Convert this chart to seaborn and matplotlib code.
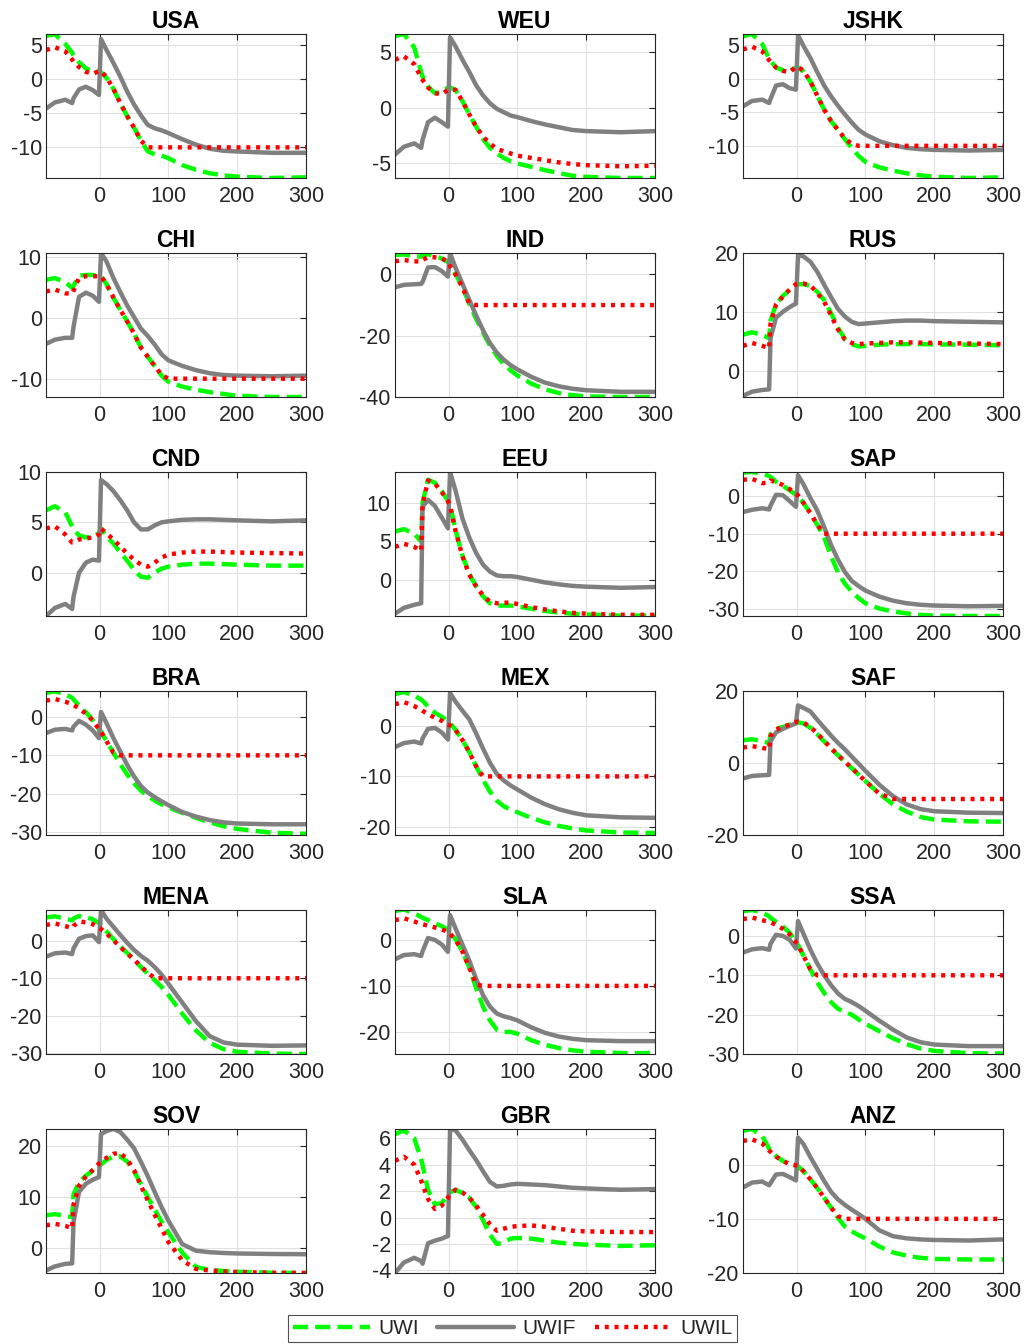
import matplotlib
matplotlib.use("Agg")
import matplotlib.pyplot as plt
import numpy as np
import pandas as pd
import seaborn as sns

# Time axis shared by every region (months relative to the policy date)
X = [-78, -65, -50, -40, -38, -30, -20, -10, -1, 2, 10, 20, 30, 40, 50, 60,
     70, 80, 90, 100, 120, 140, 160, 180, 200, 250, 300]

SCENARIOS = ["UWI", "UWIF", "UWIL"]
REGIONS = ["USA", "WEU", "JSHK", "CHI", "IND", "RUS", "CND", "EEU", "SAP",
           "BRA", "MEX", "SAF", "MENA", "SLA", "SSA", "SOV", "GBR", "ANZ"]

USA_UWI = [6.4, 6.6, 5.2, 3.9, 3.5, 2.5, 1.6, 1.2, 1.1, 1.0, 0.2, -1.4, -3.5, -5.4, -7.1, -9.0,
           -10.6, -11.0, -11.2, -11.6, -12.6, -13.3, -13.8, -14.1, -14.3, -14.5, -14.4]
USA_UWIF = [-4.3, -3.4, -3.0, -3.5, -2.8, -1.5, -1.1, -1.6, -2.3, 5.9, 4.3, 2.4, 0.4, -1.8, -3.7, -5.3,
            -6.7, -7.2, -7.5, -7.9, -8.8, -9.6, -10.2, -10.5, -10.6, -10.8, -10.8]
USA_UWIL = [4.3, 4.7, 4.1, 2.9, 2.6, 1.8, 1.1, 0.8, 1.2, 1.2, 0.3, -1.4, -3.5, -5.4, -7.1, -9.0,
            -10, -10, -10, -10, -10, -10, -10, -10, -10, -10, -10]

WEU_UWI = [6.4, 6.6, 5.4, 3.2, 2.8, 1.9, 1.3, 1.4, 1.8, 1.8, 1.6, 0.6, -0.6, -1.7, -2.8, -3.6,
           -4.1, -4.5, -4.8, -5.0, -5.3, -5.6, -5.85, -6.1, -6.2, -6.3, -6.3]
WEU_UWIF = [-4.2, -3.5, -3.2, -3.6, -2.9, -1.3, -0.9, -1.3, -1.7, 6.3, 5.5, 4.3, 3.2, 2.0, 1.1, 0.4,
            -0.1, -0.4, -0.7, -0.85, -1.2, -1.5, -1.75, -2.0, -2.1, -2.2, -2.1]
WEU_UWIL = [4.3, 4.6, 3.9, 2.7, 2.5, 1.8, 1.3, 1.2, 1.6, 1.6, 1.6, 0.6, -0.6, -1.7, -2.6, -3.2,
            -3.7, -3.9, -4.1, -4.3, -4.5, -4.7, -4.9, -5.05, -5.15, -5.25, -5.2]

JSHK_UWI = [6.35, 6.7, 5.2, 3.0, 2.7, 1.7, 1.3, 1.2, 1.7, 1.7, 1.1, -0.4, -2.5, -4.6, -6.3, -7.6,
            -9.0, -10.3, -11.5, -12.4, -13.2, -13.7, -14.1, -14.4, -14.6, -14.8, -14.7]
JSHK_UWIF = [-4.1, -3.3, -3.1, -3.6, -3.0, -1.0, -0.8, -1.4, -1.6, 6.5, 4.9, 3.1, 1.0, -1.0, -2.6, -4.0,
             -5.3, -6.5, -7.6, -8.3, -9.3, -9.9, -10.3, -10.5, -10.6, -10.7, -10.6]
JSHK_UWIL = [4.4, 4.8, 4.1, 2.8, 2.6, 1.7, 1.2, 1.0, 1.8, 1.8, 1.2, -0.4, -2.5, -4.6, -6.3, -7.6,
             -8.9, -9.7, -10, -10, -10, -10, -10, -10, -10, -10, -10]

CHI_UWI = [6.2, 6.5, 5.8, 4.9, 5.2, 6.9, 7.0, 7.0, 6.8, 6.8, 5.5, 3.3, 1.3, -0.6, -2.6, -4.9,
           -6.4, -7.9, -9.5, -10.5, -11.3, -11.8, -12.2, -12.5, -12.8, -13.0, -13.0]
CHI_UWIF = [-4.3, -3.6, -3.3, -3.3, -1.5, 3.4, 4.1, 3.6, 2.6, 10.6, 9.2, 6.5, 4.2, 2.0, 0.1, -1.8,
            -3.0, -4.4, -6.0, -7.0, -7.9, -8.6, -9.1, -9.4, -9.5, -9.6, -9.5]
CHI_UWIL = [4.3, 4.6, 4.0, 3.9, 4.4, 6.5, 6.8, 6.8, 6.8, 6.8, 5.5, 3.3, 1.3, -0.6, -2.6, -4.9,
            -6.4, -7.9, -9.4, -10, -10, -10, -10, -10, -10, -10, -10]

IND_UWI = [6.4, 6.5, 6.0, 5.8, 6.1, 6.6, 6.0, 5.2, 4.0, 3.0, 0.2, -4.2, -9.5, -14.5, -19.0, -23.2,
           -26.5, -29.3, -31.3, -33.0, -35.6, -37.5, -38.7, -39.4, -39.8, -40.0, -40.0]
IND_UWIF = [-4.2, -3.4, -3.2, -3.1, -2.5, 2.3, 2.4, 1.1, -0.7, 7.0, 2.2, -3.0, -8.3, -13.4, -18.2, -22.4,
            -25.5, -27.8, -29.6, -31.0, -33.4, -35.3, -36.5, -37.3, -37.8, -38.3, -38.3]
IND_UWIL = [4.3, 4.7, 4.3, 4.2, 4.7, 5.7, 5.6, 5.2, 4.2, 2.8, 0.0, -4.2, -9.5, -10, -10, -10,
            -10, -10, -10, -10, -10, -10, -10, -10, -10, -10, -10]

RUS_UWI = [6.1, 6.5, 6.1, 5.5, 8.5, 11.3, 12.7, 13.7, 14.6, 14.7, 14.7, 14.4, 13.4, 12.0, 9.8, 7.3,
           5.4, 4.5, 4.1, 4.2, 4.4, 4.5, 4.5, 4.5, 4.45, 4.4, 4.3]
RUS_UWIF = [-4.3, -3.6, -3.3, -3.2, 5.5, 9.0, 10.0, 10.8, 11.4, 19.7, 19.4, 18.5, 16.8, 14.6, 12.5, 10.5,
            9.2, 8.3, 7.9, 8.0, 8.2, 8.4, 8.5, 8.5, 8.4, 8.3, 8.2]
RUS_UWIL = [4.2, 4.7, 4.2, 3.8, 8.0, 11.2, 12.6, 13.8, 14.7, 14.8, 14.8, 14.5, 13.2, 11.7, 9.4, 7.0,
            5.3, 4.7, 4.5, 4.6, 4.7, 4.8, 4.8, 4.75, 4.7, 4.6, 4.5]

CND_UWI = [6.2, 6.6, 6.0, 4.6, 4.3, 3.7, 3.5, 3.6, 3.9, 4.4, 3.6, 2.9, 2.0, 1.2, 0.3, -0.4,
           -0.5, 0.0, 0.4, 0.6, 0.8, 0.9, 0.9, 0.85, 0.8, 0.7, 0.7]
CND_UWIF = [-4.3, -3.5, -3.1, -3.6, -2.4, 0.0, 1.0, 1.3, 1.2, 9.2, 8.8, 8.1, 7.2, 6.2, 5.0, 4.3,
            4.3, 4.7, 5.0, 5.1, 5.25, 5.3, 5.3, 5.25, 5.2, 5.1, 5.2]
CND_UWIL = [4.4, 4.6, 3.8, 3.0, 3.0, 3.3, 3.4, 3.5, 3.8, 4.4, 3.9, 3.3, 2.6, 1.9, 1.3, 0.8,
            0.6, 1.0, 1.5, 1.8, 2.0, 2.1, 2.1, 2.05, 2.0, 1.95, 1.9]

EEU_UWI = [6.3, 6.6, 6.0, 5.0, 10.0, 13.0, 12.6, 11.5, 10.3, 9.8, 6.5, 3.2, 0.8, -0.8, -2.1, -3.0,
           -3.3, -3.3, -3.3, -3.4, -3.7, -4.0, -4.2, -4.35, -4.45, -4.6, -4.6]
EEU_UWIF = [-4.35, -3.6, -3.2, -3.0, 9.5, 10.4, 9.6, 8.1, 6.7, 14.0, 11.6, 8.0, 5.5, 3.5, 2.0, 1.1,
            0.6, 0.5, 0.5, 0.4, 0.05, -0.3, -0.55, -0.75, -0.85, -1.0, -0.9]
EEU_UWIL = [4.3, 4.7, 4.3, 3.8, 9.8, 12.9, 12.5, 11.4, 10.2, 9.7, 6.4, 3.1, 0.7, -0.8, -2.0, -2.8,
            -3.0, -2.95, -2.9, -3.1, -3.5, -3.8, -4.05, -4.25, -4.35, -4.5, -4.5]

SAP_UWI = [6.3, 6.5, 6.1, 5.4, 5.2, 3.9, 2.8, 1.6, 0.4, 0.1, -1.8, -4.5, -7.6, -11.0, -16.0, -20.3,
           -23.3, -25.5, -27.2, -28.6, -30.0, -30.8, -31.3, -31.7, -31.9, -32.0, -32.0]
SAP_UWIF = [-4.2, -3.6, -3.2, -3.5, -2.5, 0.4, 0.3, -1.3, -2.8, 5.6, 3.2, -0.5, -3.8, -8.2, -13.0, -16.9,
            -20.2, -22.6, -24.0, -25.2, -26.8, -27.9, -28.6, -29.0, -29.2, -29.4, -29.3]
SAP_UWIL = [4.4, 4.7, 3.5, 3.7, 4.2, 3.8, 3.0, 1.9, 0.6, 0.3, -1.8, -4.5, -7.6, -10, -10, -10,
            -10, -10, -10, -10, -10, -10, -10, -10, -10, -10, -10]

BRA_UWI = [6.3, 6.7, 6.0, 5.0, 4.6, 3.0, 1.3, -0.8, -3.2, -3.8, -6.3, -9.3, -12.3, -15.0, -17.3, -19.2,
           -20.6, -21.8, -22.8, -23.6, -25.0, -26.3, -27.5, -28.5, -29.2, -30.2, -30.5]
BRA_UWIF = [-4.2, -3.3, -3.1, -3.5, -2.5, -1.0, -2.0, -3.5, -5.5, 1.3, -1.6, -5.5, -9.0, -12.5, -15.5, -18.0,
            -19.7, -20.9, -22.0, -23.0, -24.8, -26.0, -26.9, -27.5, -27.8, -28.0, -28.0]
BRA_UWIL = [4.3, 4.7, 4.0, 3.4, 3.2, 2.2, 0.9, -0.9, -3.2, -3.8, -6.3, -9.3, -10, -10, -10, -10,
            -10, -10, -10, -10, -10, -10, -10, -10, -10, -10, -10]

MEX_UWI = [6.3, 6.7, 6.0, 5.2, 5.0, 3.8, 2.6, 1.8, 0.9, 0.6, -0.8, -2.8, -5.2, -8.0, -10.7, -13.0,
           -14.8, -15.9, -16.6, -17.1, -18.2, -19.1, -19.8, -20.3, -20.7, -21.1, -21.2]
MEX_UWIF = [-4.2, -3.4, -3.1, -3.5, -2.5, -0.6, -0.4, -1.3, -2.7, 6.5, 4.8, 3.0, 1.3, -1.5, -4.5, -7.3,
            -9.5, -10.8, -11.8, -12.6, -14.2, -15.5, -16.5, -17.2, -17.7, -18.1, -18.2]
MEX_UWIL = [4.3, 4.7, 3.9, 3.2, 3.0, 2.3, 1.6, 1.0, 0.3, 0.1, -0.8, -2.8, -5.2, -8.0, -10, -10,
            -10, -10, -10, -10, -10, -10, -10, -10, -10, -10, -10]

SAF_UWI = [6.3, 6.6, 6.1, 5.5, 8.0, 9.5, 10.0, 10.6, 11.2, 11.3, 11.0, 9.8, 8.0, 6.0, 4.0, 2.2,
           0.4, -1.4, -3.2, -5.0, -8.5, -11.5, -13.5, -15.0, -15.7, -16.2, -16.3]
SAF_UWIF = [-4.3, -3.6, -3.4, -3.3, 6.0, 8.5, 9.5, 10.3, 11.0, 16.0, 15.3, 14.3, 12.0, 9.8, 7.6, 5.6,
            3.8, 1.8, -0.2, -2.2, -6.0, -9.2, -11.5, -12.8, -13.4, -13.8, -13.9]
SAF_UWIL = [4.3, 4.7, 4.2, 3.8, 7.5, 9.3, 10.0, 10.7, 11.4, 11.5, 11.2, 10.0, 8.2, 6.2, 4.1, 2.2,
            0.4, -1.4, -3.2, -5.0, -8.5, -10, -10, -10, -10, -10, -10]

MENA_UWI = [6.3, 6.6, 6.0, 5.5, 6.0, 6.7, 6.4, 5.8, 4.8, 4.3, 2.6, 0.5, -1.5, -3.2, -5.0, -7.0,
            -8.8, -10.5, -12.3, -14.5, -19.5, -24.0, -27.3, -29.0, -29.7, -30.2, -30.3]
MENA_UWIF = [-4.2, -3.3, -3.1, -3.5, -2.0, 0.6, 1.3, 1.5, -0.3, 8.3, 6.0, 3.8, 1.6, -0.5, -2.4, -4.0,
             -5.3, -7.0, -9.0, -11.5, -16.5, -21.5, -25.5, -27.2, -27.8, -28.1, -28.0]
MENA_UWIL = [4.3, 4.7, 4.0, 3.4, 4.0, 5.2, 5.0, 4.5, 3.5, 3.2, 2.0, 0.2, -1.6, -3.3, -5.0, -6.8,
             -8.5, -10, -10, -10, -10, -10, -10, -10, -10, -10, -10]

SLA_UWI = [6.3, 6.6, 5.8, 5.0, 4.8, 4.3, 3.6, 3.0, 2.2, 1.8, 0.2, -2.5, -6.0, -10.5, -14.5, -17.5,
           -19.5, -20.0, -20.0, -20.4, -21.8, -22.8, -23.5, -24.0, -24.3, -24.6, -24.6]
SLA_UWIF = [-4.2, -3.3, -3.1, -3.5, -2.5, 0.4, 0.0, -1.0, -2.6, 5.4, 2.5, -1.0, -4.5, -8.5, -12.0, -14.5,
            -16.0, -16.6, -17.0, -17.5, -19.0, -20.2, -21.0, -21.5, -21.8, -22.0, -22.0]
SLA_UWIL = [4.3, 4.7, 4.0, 3.5, 3.4, 3.1, 2.7, 2.3, 1.7, 1.4, 0.0, -2.5, -6.0, -9.7, -10, -10,
            -10, -10, -10, -10, -10, -10, -10, -10, -10, -10, -10]

SSA_UWI = [6.3, 6.6, 6.0, 5.0, 4.6, 3.6, 2.4, 0.8, -1.5, -2.3, -5.0, -8.5, -11.8, -14.5, -16.8, -18.5,
           -19.3, -20.0, -21.2, -22.3, -24.2, -26.0, -27.5, -28.6, -29.2, -29.8, -29.9]
SSA_UWIF = [-4.2, -3.4, -3.1, -3.5, -2.0, 0.3, 0.0, -1.0, -3.2, 3.8, 0.5, -3.5, -7.0, -10.0, -12.5, -14.6,
            -16.0, -16.8, -17.8, -19.0, -21.5, -23.8, -25.8, -27.0, -27.6, -28.0, -28.0]
SSA_UWIL = [4.3, 4.7, 4.0, 3.6, 3.5, 2.8, 1.8, 0.4, -1.6, -2.3, -5.0, -8.5, -10, -10, -10, -10,
            -10, -10, -10, -10, -10, -10, -10, -10, -10, -10, -10]

SOV_UWI = [6.4, 6.6, 6.3, 6.0, 10.5, 12.9, 14.2, 15.2, 16.0, 16.4, 17.3, 18.0, 18.0, 17.0, 15.0, 12.6,
           10.0, 7.5, 5.2, 3.0, -1.0, -3.8, -4.4, -4.6, -4.75, -4.95, -5.0]
SOV_UWIF = [-4.5, -3.7, -3.2, -3.1, 5.0, 11.0, 12.6, 13.4, 13.9, 22.4, 23.0, 23.4, 22.8, 21.3, 19.6, 16.9,
            14.1, 11.0, 8.0, 5.3, 0.7, -0.6, -0.9, -1.05, -1.15, -1.25, -1.3]
SOV_UWIL = [4.4, 4.7, 4.3, 3.8, 8.5, 12.2, 14.0, 15.3, 16.6, 16.9, 17.7, 18.5, 18.7, 17.4, 15.3, 12.2,
            9.3, 6.5, 3.8, 1.1, -2.5, -4.2, -4.5, -4.7, -4.8, -4.95, -5.0]

GBR_UWI = [6.3, 6.6, 6.0, 4.4, 4.0, 2.1, 1.0, 1.1, 1.7, 1.9, 2.1, 1.85, 1.5, 0.8, -0.2, -1.3,
           -2.0, -1.9, -1.6, -1.55, -1.6, -1.75, -1.9, -2.0, -2.05, -2.15, -2.1]
GBR_UWIF = [-4.2, -3.4, -3.05, -3.3, -3.5, -1.95, -1.75, -1.6, -1.4, 6.7, 6.6, 5.9, 5.1, 4.35, 3.5, 2.7,
            2.35, 2.4, 2.5, 2.55, 2.5, 2.45, 2.35, 2.25, 2.2, 2.1, 2.15]
GBR_UWIL = [4.3, 4.6, 4.0, 2.8, 2.5, 1.4, 0.65, 0.9, 1.5, 1.7, 2.1, 1.9, 1.5, 0.9, 0.2, -0.5,
            -1.0, -0.85, -0.7, -0.65, -0.6, -0.7, -0.85, -1.0, -1.05, -1.1, -1.1]

ANZ_UWI = [6.25, 6.6, 5.3, 3.0, 2.7, 1.6, 0.7, 0.1, -0.2, -0.3, -1.2, -2.7, -4.3, -6.1, -7.9, -9.8,
           -11.4, -12.3, -13.0, -13.6, -15.1, -16.2, -16.8, -17.2, -17.4, -17.5, -17.5]
ANZ_UWIF = [-4.2, -3.3, -3.1, -3.8, -3.4, -1.8, -1.7, -2.3, -2.9, 5.0, 3.8, 1.4, -0.8, -3.0, -5.0, -6.4,
            -7.4, -8.3, -9.1, -10.0, -12.1, -13.2, -13.6, -13.8, -13.9, -14.0, -13.8]
ANZ_UWIL = [4.4, 4.7, 3.9, 2.6, 2.4, 1.5, 0.7, 0.1, -0.1, -0.2, -1.2, -2.7, -4.3, -6.1, -7.9, -9.5,
            -10, -10, -10, -10, -10, -10, -10, -10, -10, -10, -10]

# Y ticks and limits per region
YTICKS = [[-10, -5, 0, 5], [-5, 0, 5], [-10, -5, 0, 5],
          [-10, 0, 10], [-40, -20, 0], [0, 10, 20],
          [0, 5, 10], [0, 5, 10], [-30, -20, -10, 0],
          [-30, -20, -10, 0], [-20, -10, 0], [-20, 0, 20],
          [-30, -20, -10, 0], [-20, -10, 0], [-30, -20, -10, 0],
          [0, 10, 20], [-4, -2, 0, 2, 4, 6], [-20, -10, 0]]
YLIMS = [(-14.5, 6.65), (-6.3, 6.6), (-14.8, 6.7),
         (-13.0, 10.6), (-40.0, 7.0), (-4.5, 20.0),
         (-4.3, 10.0), (-4.65, 14.0), (-32.0, 6.5),
         (-30.8, 6.8), (-21.6, 6.9), (-20.0, 20.0),
         (-30.3, 8.3), (-24.8, 6.5), (-30.0, 6.6),
         (-5.0, 23.4), (-4.2, 6.7), (-20.0, 6.6)]

SERIES = {
    "USA": (USA_UWI, USA_UWIF, USA_UWIL), "WEU": (WEU_UWI, WEU_UWIF, WEU_UWIL),
    "JSHK": (JSHK_UWI, JSHK_UWIF, JSHK_UWIL), "CHI": (CHI_UWI, CHI_UWIF, CHI_UWIL),
    "IND": (IND_UWI, IND_UWIF, IND_UWIL), "RUS": (RUS_UWI, RUS_UWIF, RUS_UWIL),
    "CND": (CND_UWI, CND_UWIF, CND_UWIL), "EEU": (EEU_UWI, EEU_UWIF, EEU_UWIL),
    "SAP": (SAP_UWI, SAP_UWIF, SAP_UWIL), "BRA": (BRA_UWI, BRA_UWIF, BRA_UWIL),
    "MEX": (MEX_UWI, MEX_UWIF, MEX_UWIL), "SAF": (SAF_UWI, SAF_UWIF, SAF_UWIL),
    "MENA": (MENA_UWI, MENA_UWIF, MENA_UWIL), "SLA": (SLA_UWI, SLA_UWIF, SLA_UWIL),
    "SSA": (SSA_UWI, SSA_UWIF, SSA_UWIL), "SOV": (SOV_UWI, SOV_UWIF, SOV_UWIL),
    "GBR": (GBR_UWI, GBR_UWIF, GBR_UWIL), "ANZ": (ANZ_UWI, ANZ_UWIF, ANZ_UWIL),
}

PALETTE = {"UWI": "#00ff00", "UWIF": "#808080", "UWIL": "#ff0000"}
DASHES = {"UWI": (3.4, 1.6), "UWIF": "", "UWIL": (0.9, 1.3)}

sns.set_style("white")
plt.rcParams["font.family"] = ["Liberation Sans", "DejaVu Sans"]
plt.rcParams["axes.unicode_minus"] = False

fig = plt.figure(figsize=(10.25, 13.44), dpi=100)

LEFTS = [46 / 1025, 395 / 1025, 743 / 1025]
TOPS = [34, 253, 472, 691, 910, 1129]
W, H = 260 / 1025, 144 / 1344
INK = "#262626"

first_ax = None
for i, name in enumerate(REGIONS):
    r, c = divmod(i, 3)
    ax = fig.add_axes([LEFTS[c], 1 - (TOPS[r] + 144) / 1344, W, H])
    uwi, uwif, uwil = SERIES[name]
    df = pd.DataFrame({
        "t": X * 3,
        "value": list(uwi) + list(uwif) + list(uwil),
        "scenario": [s for s in SCENARIOS for _ in X],
    })
    sns.lineplot(data=df, x="t", y="value", hue="scenario", style="scenario",
                 hue_order=SCENARIOS, style_order=SCENARIOS, palette=PALETTE,
                 dashes=DASHES, linewidth=3.2, estimator=None, sort=False,
                 legend=False, ax=ax)
    for ln in ax.get_lines():
        ln.set_dash_capstyle("butt")
        ln.set_solid_joinstyle("round")
        ln.set_dash_joinstyle("round")

    ax.set_xlim(-78, 300)
    ax.set_ylim(*YLIMS[i])
    ax.set_xticks([0, 100, 200, 300])
    ax.set_yticks(YTICKS[i])
    ax.set_xlabel("")
    ax.set_ylabel("")
    ax.set_axisbelow(True)
    ax.grid(True, color="#e1e1e1", linewidth=0.8)
    ax.tick_params(axis="both", direction="in", top=True, right=True, length=4,
                   width=0.8, color=INK, labelcolor=INK, labelsize=15.5)
    ax.tick_params(axis="x", pad=6)
    ax.tick_params(axis="y", pad=3)
    for sp in ax.spines.values():
        sp.set_visible(True)
        sp.set_color(INK)
        sp.set_linewidth(0.8)
    ax.set_title(name, fontsize=16.5, fontweight="bold", color="black", pad=4)
    if first_ax is None:
        first_ax = ax

handles = first_ax.get_lines()[:3]
leg = fig.legend(handles, SCENARIOS, loc="lower center", bbox_to_anchor=(0.5, 0.0015),
                 ncol=3, frameon=True, fancybox=False, edgecolor=INK, fontsize=15,
                 handlelength=3.7, handletextpad=0.4, columnspacing=0.9,
                 borderpad=0.2, borderaxespad=0.0)
leg.get_frame().set_linewidth(0.8)
for t in leg.get_texts():
    t.set_color(INK)

fig.savefig("out.png", dpi=100, facecolor="white")
